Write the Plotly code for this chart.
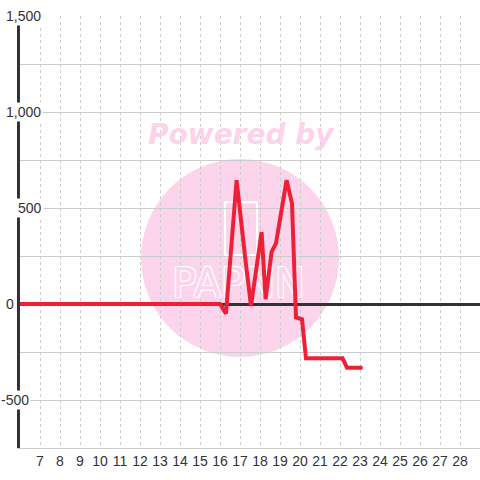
import plotly.graph_objects as go

# Data
x_vals = [6, 16.0, 16.3, 16.83, 17.25, 17.55, 18.08, 18.28, 18.58, 18.8, 19.33, 19.6, 19.8, 20.1, 20.3, 22.13, 22.35, 23.13]
y_vals = [0, 0, -50, 645, 250, -10, 375, 25, 272, 316, 645, 524, -70, -80, -283, -283, -332, -332]

x_ticks = list(range(7, 29))
x_tick_labels = [str(v) for v in x_ticks]
y_ticks = [1500, 1000, 500, 0, -500]
y_tick_labels = ["1,500", "1,000", "500", "0", "-500"]
y_label_right_px = [43, 43, 44, 16, 31]  # where each label ends (pixels)

L, R, T, B = 20, 0, 16, 32
W = H = 480
plot_w = W - L - R
plot_h = H - T - B

fig = go.Figure()

# watermark logo letters (below the line)
fig.add_trace(go.Scatter(
    x=[16.93], y=[90], mode="text", text=["PAPNN"],
    textfont=dict(family="DejaVu Sans", size=40, color="#fcd5ec",
                  shadow="1px 1px 0 #fff, -1px -1px 0 #fff, 1px -1px 0 #fff, -1px 1px 0 #fff"),
    hoverinfo="skip", showlegend=False))

fig.add_trace(go.Scatter(
    x=x_vals, y=y_vals, mode="lines",
    line=dict(color="#ee2038", width=4),
    showlegend=False))

# watermark circle
fig.add_shape(type="circle", xref="x", yref="y", x0=12.05, x1=21.95, y0=-276, y1=755,
              fillcolor="#fcd5ec", line=dict(width=0), layer="below")
# watermark cup outline
fig.add_shape(type="rect", xref="x", yref="y", x0=16.25, x1=17.85, y0=255, y1=530,
              line=dict(color="#ffffff", width=2), fillcolor="rgba(0,0,0,0)", layer="below")

fig.add_annotation(x=(241.5 - L) / plot_w, xref="paper",
                   y=(H - B - 134) / plot_h, yref="paper", yanchor="middle",
                   text="<b><i>Powered by</i></b>", showarrow=False,
                   font=dict(family="DejaVu Sans", size=28, color="#fcd3ea"))

for v, lab, rpx in zip(y_ticks, y_tick_labels, y_label_right_px):
    fig.add_annotation(x=(rpx - L) / plot_w, xref="paper", xanchor="right",
                       y=v, yref="y", yanchor="middle", text=lab, showarrow=False,
                       bgcolor="#ffffff", borderpad=1,
                       font=dict(family="Liberation Sans", size=14, color="#333333"))

fig.update_layout(
    width=W, height=H, margin=dict(l=L, r=R, t=T, b=B),
    paper_bgcolor="#ffffff", plot_bgcolor="rgba(0,0,0,0)",
    xaxis=dict(range=[6, 29], tickvals=x_ticks, ticktext=x_tick_labels,
               showgrid=True, gridcolor="#cccccc", griddash="3px,3px", gridwidth=1,
               zeroline=False, showline=True, linecolor="#cccccc", linewidth=1,
               ticks="", tickfont=dict(family="Liberation Sans", size=14, color="#333333")),
    yaxis=dict(range=[-750, 1500], dtick=250, tick0=0, showticklabels=False,
               showgrid=True, gridcolor="#cccccc", gridwidth=1,
               zeroline=True, zerolinecolor="#333333", zerolinewidth=3,
               showline=True, linecolor="#333333", linewidth=3, ticks=""),
)

fig.write_html("out.html", config={"displayModeBar": False},
               post_script="document.body.style.margin='0';document.body.style.padding='0';")
